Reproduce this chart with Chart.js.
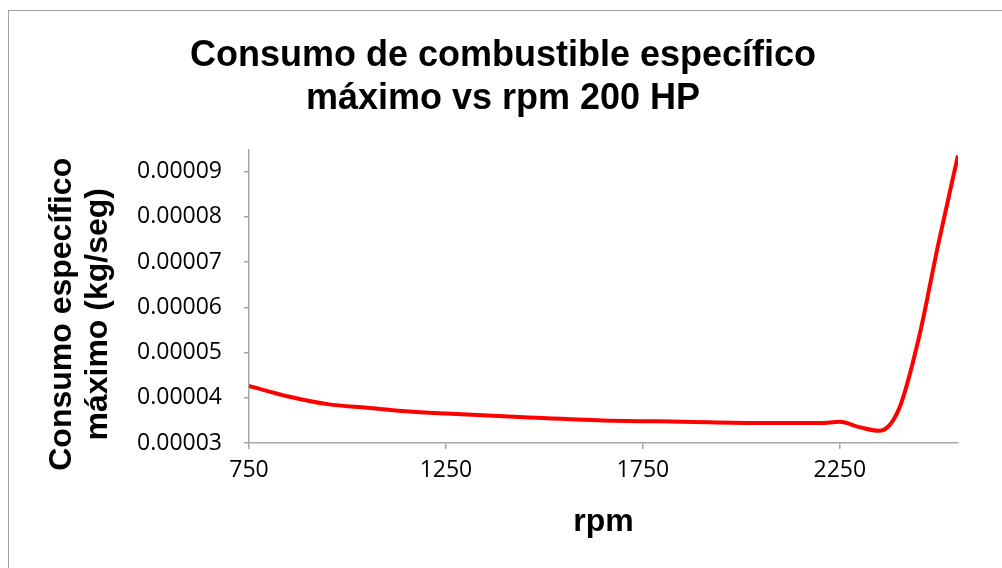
<!DOCTYPE html>
<html>
<head>
<meta charset="utf-8">
<script src="https://cdn.jsdelivr.net/npm/chart.js@4.4.1/dist/chart.umd.min.js"></script>
<style>
	html, body {
		margin: 0;
		padding: 0;
		background: #ffffff;
		overflow: hidden;
	}
	.frame {
		position: absolute;
		left: 8px;
		top: 10px;
		width: 1100px;
		height: 600px;
		border: 1.5px solid #a0a0a0;
	}
	.chart-box {
		position: absolute;
		left: 0;
		top: 0;
		width: 1002px;
		height: 568px;
	}
</style>
</head>
<body>
<div class="frame"></div>
<div class="chart-box"><canvas id="consumoChart"></canvas></div>
<script>
// --- Data ---
const rpm = [750, 850, 950, 1050, 1150, 1250, 1450, 1650, 1850, 2050, 2200, 2250, 2300, 2350, 2400, 2450, 2500, 2550];
const consumo = [
	0.0000426, 0.0000403, 0.0000386, 0.0000378, 0.000037, 0.0000365, 0.0000357, 0.000035,
	0.0000347, 0.0000344, 0.0000344, 0.0000347, 0.0000335, 0.0000327, 0.0000375, 0.000053,
	0.000074, 0.0000936,
];
const xTicks = [750, 1250, 1750, 2250];
const yTicks = [0.00003, 0.00004, 0.00005, 0.00006, 0.00007, 0.00008, 0.00009];

const titleLines = ["Consumo de combustible específico", "máximo vs rpm 200 HP"];
// trailing spaces nudge the rotated title down a little, like the original
const yTitleLines = ["Consumo específico    ", "máximo (kg/seg)    "];
const xTitle = "rpm";

const axisGrey = "#a6a6a6";

const ctx = document.getElementById("consumoChart");

new Chart(ctx, {
	type: "scatter",
	data: {
		datasets: [
			{
				data: rpm.map((r, i) => ({ x: r, y: consumo[i] })),
				showLine: true,
				borderColor: "#ff0000",
				borderWidth: 4,
				pointRadius: 0,
				cubicInterpolationMode: "monotone",
				fill: false,
			},
		],
	},
	options: {
		responsive: true,
		maintainAspectRatio: false,
		animation: false,
		layout: {
			// left padding keeps the title centred on the frame
			padding: { left: 48, right: 44, top: 0, bottom: 0 },
		},
		plugins: {
			legend: { display: false },
			tooltip: { enabled: false },
			title: {
				display: true,
				text: titleLines,
				color: "#000000",
				font: { family: "'Liberation Sans', Arial, sans-serif", size: 36, weight: "bold", lineHeight: 1.2 },
				padding: { top: 34, bottom: 29.6 },
			},
		},
		scales: {
			x: {
				type: "linear",
				min: 750,
				max: 2550,
				afterBuildTicks: function (scale) {
					scale.ticks = xTicks.map((v) => ({ value: v }));
				},
				afterFit: function (scale) {
					scale.height = 125;
				},
				ticks: {
					color: "#000000",
					padding: 8,
					maxRotation: 0,
					font: { family: "'Open Sans', sans-serif", size: 23 },
					callback: (v) => String(v),
				},
				grid: {
					drawOnChartArea: false,
					drawTicks: true,
					tickLength: 6,
					color: axisGrey,
					lineWidth: 1.5,
				},
				border: { display: true, color: axisGrey, width: 1.5 },
				title: {
					display: true,
					text: xTitle,
					color: "#000000",
					font: { family: "'Liberation Sans', Arial, sans-serif", size: 32, weight: "bold", lineHeight: 1.2 },
					padding: { top: 0, bottom: 27 },
				},
			},
			y: {
				min: 0.00003,
				max: 0.0000948,
				afterBuildTicks: function (scale) {
					scale.ticks = yTicks.map((v) => ({ value: v }));
				},
				afterFit: function (scale) {
					scale.width = 201;
				},
				ticks: {
					color: "#000000",
					padding: 22,
					font: { family: "'Open Sans', sans-serif", size: 23 },
					callback: (v) => Number(v).toFixed(5),
				},
				grid: {
					drawOnChartArea: false,
					drawTicks: true,
					tickLength: 5,
					color: axisGrey,
					lineWidth: 1.5,
				},
				border: { display: true, color: axisGrey, width: 1.5 },
				title: {
					display: true,
					text: yTitleLines,
					color: "#000000",
					font: { family: "'Liberation Sans', Arial, sans-serif", size: 32, weight: "bold", lineHeight: 1.12 },
					padding: { top: -4, bottom: 0 },
				},
			},
		},
	},
});
</script>
</body>
</html>
